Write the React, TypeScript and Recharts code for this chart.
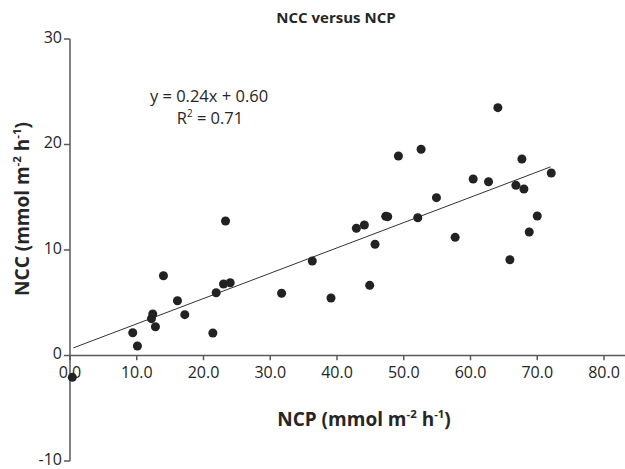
import React from 'react';
import {
  ScatterChart,
  Scatter,
  XAxis,
  YAxis,
  ZAxis,
  ReferenceLine,
  ReferenceDot,
} from 'recharts';

// NCP (x) and NCC (y) values
const ncp = [
  0.35, 9.4, 10.1, 12.2, 12.4, 12.8, 14.0, 16.1, 17.2, 21.4, 21.9, 23.0, 24.0, 23.3,
  31.7, 36.3, 39.1, 42.9, 44.1, 44.9, 45.7, 47.3, 47.6, 49.2, 52.1, 52.6, 54.9, 57.7,
  60.4, 62.7, 64.1, 65.9, 66.8, 67.7, 68.0, 68.8, 70.0, 72.1,
];
const ncc = [
  -2.07, 2.16, 0.9, 3.49, 3.93, 2.73, 7.56, 5.19, 3.87, 2.13, 5.95, 6.78, 6.9, 12.75,
  5.9, 8.96, 5.45, 12.06, 12.37, 6.65, 10.54, 13.19, 13.16, 18.91, 13.06, 19.55, 14.96, 11.2,
  16.73, 16.47, 23.49, 9.08, 16.13, 18.63, 15.78, 11.71, 13.22, 17.3,
];

const xTicks = [0, 10, 20, 30, 40, 50, 60, 70, 80];
const yTicks = [-10, 0, 10, 20, 30];

const slope = 0.24;
const intercept = 0.6;
const trendX = [0.5, 72];

const points = ncp.map((x, i) => ({ x, y: ncc[i] }));
const trendSeg = trendX.map((x) => ({ x, y: slope * x + intercept }));

const FONT = '"Open Sans", "Liberation Sans", sans-serif';
const AXIS = '#595959';
const TEXT = '#262626';

const Sup = ({ children }: { children: React.ReactNode }) => (
  <span style={{ fontSize: '0.6em', verticalAlign: '0.7em', lineHeight: 0 }}>{children}</span>
);

const lab = (extra: React.CSSProperties): React.CSSProperties => ({
  position: 'absolute',
  transform: 'translate(-50%,-50%)',
  whiteSpace: 'nowrap',
  lineHeight: '18px',
  ...extra,
});

const YTick = (p: any) => (
  <text x={p.x} y={p.y} dy={3.5} textAnchor="end" fill={TEXT} fontSize={16} fontFamily={FONT}>
    {p.payload.value}
  </text>
);

export default function App() {
  return (
    <div style={{ position: 'absolute', left: 0, top: 0, width: 625, height: 469, fontFamily: FONT, color: TEXT }}>
      <ScatterChart width={625} height={469} margin={{ top: 39, right: 21, bottom: 8, left: 0 }}>
        <XAxis type="number" dataKey="x" domain={[0, 80]} ticks={xTicks} hide />
        <YAxis
          type="number"
          dataKey="y"
          domain={[-10, 30]}
          ticks={yTicks}
          interval={0}
          width={70}
          axisLine={{ stroke: AXIS, strokeWidth: 1.5 }}
          tickLine={{ stroke: AXIS, strokeWidth: 1.5 }}
          tickSize={6}
          tick={<YTick />}
        />
        <ZAxis range={[62, 62]} />
        <ReferenceLine
          segment={[{ x: 0, y: 0 }, { x: 83.2, y: 0 }]}
          stroke={AXIS}
          strokeWidth={1.5}
          ifOverflow="visible"
        />
        {xTicks.map((v) => (
          <ReferenceLine
            key={'t' + v}
            segment={[{ x: v, y: 0 }, { x: v, y: -0.45 }]}
            stroke={AXIS}
            strokeWidth={1.5}
            ifOverflow="visible"
          />
        ))}
        {xTicks.map((v) => (
          <ReferenceDot
            key={'l' + v}
            x={v}
            y={0}
            r={1}
            fill="none"
            stroke="none"
            ifOverflow="visible"
            label={{
              content: (props: any) => {
                const vb = props.viewBox || {};
                const cx = (vb.x ?? 0) + (vb.width ?? 0) / 2;
                const cy = (vb.y ?? 0) + (vb.height ?? 0) / 2;
                return (
                  <text x={cx} y={cy + 22} textAnchor="middle" fill={TEXT} fontSize={16} fontFamily={FONT}>
                    {v.toFixed(1)}
                  </text>
                );
              },
            }}
          />
        ))}
        <ReferenceLine segment={trendSeg} stroke="#333" strokeWidth={1} ifOverflow="visible" />
        <Scatter data={points} fill="#222" isAnimationActive={false} />
      </ScatterChart>

      <div style={lab({ left: 336, top: 17, fontWeight: 700, fontSize: 15 })}>NCC versus NCP</div>
      <div style={lab({ left: 209, top: 96, fontSize: 16.5 })}>y = 0.24x + 0.60</div>
      <div style={lab({ left: 210, top: 118, fontSize: 16.5 })}>
        R<Sup>2</Sup> = 0.71
      </div>
      <div style={lab({ left: 364, top: 419, fontWeight: 700, fontSize: 19, lineHeight: '22px' })}>
        NCP (mmol m<Sup>-2</Sup> h<Sup>-1</Sup>)
      </div>
      <div
        style={lab({
          left: 22,
          top: 209,
          fontWeight: 700,
          fontSize: 19,
          lineHeight: '22px',
          transform: 'translate(-50%,-50%) rotate(-90deg)',
        })}
      >
        NCC (mmol m<Sup>-2</Sup> h<Sup>-1</Sup>)
      </div>
    </div>
  );
}
